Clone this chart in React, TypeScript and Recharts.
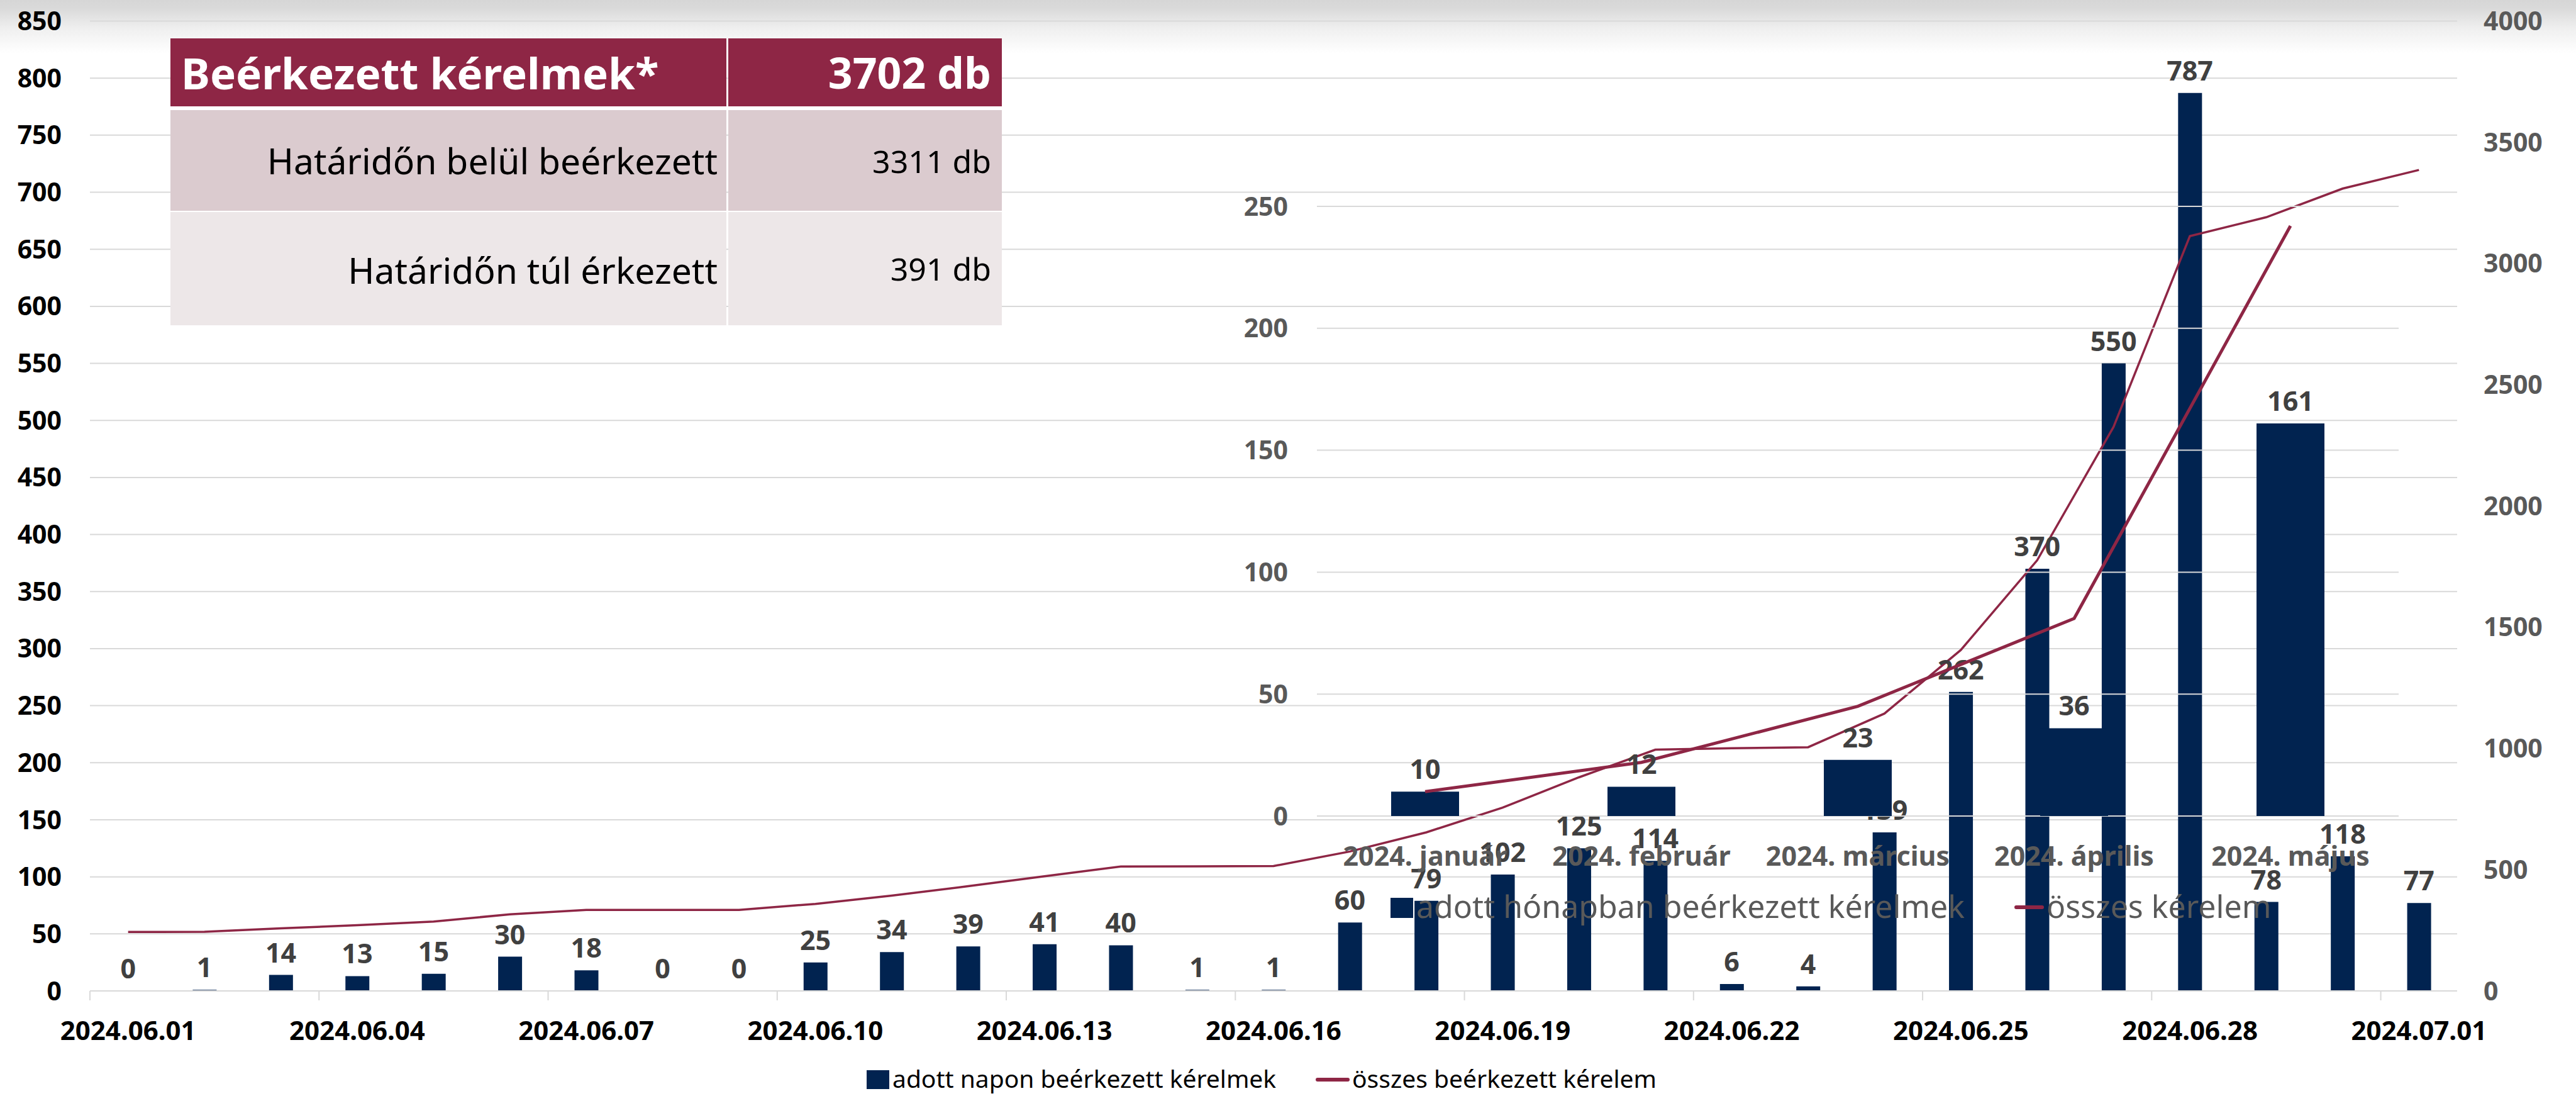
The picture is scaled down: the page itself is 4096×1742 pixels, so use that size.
import React from 'react';
import { ComposedChart, Bar, Line, XAxis, YAxis, CartesianGrid, LabelList } from 'recharts';

const days = [
  '2024.06.01', '2024.06.02', '2024.06.03', '2024.06.04', '2024.06.05', '2024.06.06', '2024.06.07',
  '2024.06.08', '2024.06.09', '2024.06.10', '2024.06.11', '2024.06.12', '2024.06.13', '2024.06.14',
  '2024.06.15', '2024.06.16', '2024.06.17', '2024.06.18', '2024.06.19', '2024.06.20', '2024.06.21',
  '2024.06.22', '2024.06.23', '2024.06.24', '2024.06.25', '2024.06.26', '2024.06.27', '2024.06.28',
  '2024.06.29', '2024.06.30', '2024.07.01',
];
const dailyCounts = [0, 1, 14, 13, 15, 30, 18, 0, 0, 25, 34, 39, 41, 40, 1, 1, 60, 79, 102, 125, 114, 6, 4, 139, 262, 370, 550, 787, 78, 118, 77];
const cumulativeCounts = [243, 244, 258, 271, 286, 316, 334, 334, 334, 359, 393, 432, 473, 513, 514, 515, 575, 654, 756, 881, 995, 1001, 1005, 1144, 1406, 1776, 2326, 3113, 3191, 3309, 3386];
const leftTicks = [0, 50, 100, 150, 200, 250, 300, 350, 400, 450, 500, 550, 600, 650, 700, 750, 800, 850];
const rightTicks = [0, 500, 1000, 1500, 2000, 2500, 3000, 3500, 4000];

const months = ['2024. január', '2024. február', '2024. március', '2024. április', '2024. május'];
const monthlyCounts = [10, 12, 23, 36, 161];
const monthlyTotals = [10, 22, 45, 81, 242];
const subTicks = [0, 50, 100, 150, 200, 250];

const summaryHeader = ['Beérkezett kérelmek*', '3702 db'];
const summaryRows = [
  ['Határidőn belül beérkezett', '3311 db'],
  ['Határidőn túl érkezett', '391 db'],
];

const mainLegend = ['adott napon beérkezett kérelmek', 'összes beérkezett kérelem'];
const subLegend = ['adott hónapban beérkezett kérelmek', 'összes kérelem'];

const FONT = "'Noto Sans', 'Open Sans', sans-serif";
const NAVY = '#012350';
const MAROON = '#8E2645';
const GRID = '#d9d9d9';

const dailyData = days.map((d, i) => ({ day: d, daily: dailyCounts[i], cumulative: cumulativeCounts[i] }));
const monthlyData = months.map((m, i) => ({ month: m, count: monthlyCounts[i], total: monthlyTotals[i] }));

// main chart geometry
const W = 4096;
const H = 1742;
const PLOT_LEFT = 143;
const PLOT_RIGHT = 3907;
const PLOT_TOP = 33.5;
const PLOT_BOTTOM = 1575;
const BW = (PLOT_RIGHT - PLOT_LEFT) / days.length;

function DayTick(props: any) {
  const { x, y, payload } = props;
  return (
    <g>
      <line x1={x - BW / 2} x2={x - BW / 2} y1={y} y2={y + 15} stroke={GRID} strokeWidth={2} />
      <text x={x} y={y + 78} textAnchor="middle" fontSize={42} fontWeight={700} fill="#000" fontFamily={FONT}>
        {payload.value}
      </text>
    </g>
  );
}

function MonthTick(props: any) {
  const { x, y, payload } = props;
  return (
    <text x={x} y={y + 79} textAnchor="middle" fontSize={43} fontWeight={700} fill="#595959" fontFamily={FONT}>
      {payload.value}
    </text>
  );
}

// sub chart geometry
const SUB_LEFT = 1900;
const SUB_TOP = 250;
const SUB_W = 1960;
const SUB_H = 1200;

export default function App() {
  return (
    <div
      style={{
        position: 'absolute',
        left: 0,
        top: 0,
        width: W,
        height: H,
        overflow: 'hidden',
        background: '#ffffff',
        fontFamily: FONT,
      }}
    >
      <div
        style={{
          position: 'absolute',
          left: 0,
          top: 0,
          width: W,
          height: 90,
          background: 'linear-gradient(to bottom, #d6d6d6 0px, #dadada 14px, #efefef 45px, #ffffff 85px)',
        }}
      />
      <div style={{ position: 'absolute', left: 0, top: 0 }}>
        <ComposedChart
          width={W}
          height={H}
          data={dailyData}
          margin={{ top: PLOT_TOP, right: 0, bottom: H - PLOT_BOTTOM - 80, left: 0 }}
          barCategoryGap={0}
        >
          <CartesianGrid yAxisId="left" horizontal vertical={false} stroke={GRID} strokeWidth={2} />
          <XAxis
            dataKey="day"
            height={80}
            interval={2}
            tickSize={0}
            tickMargin={0}
            axisLine={{ stroke: GRID, strokeWidth: 2 }}
            tickLine={false}
            tick={(p: any) => <DayTick {...p} />}
          />
          <YAxis
            yAxisId="left"
            orientation="left"
            width={PLOT_LEFT}
            domain={[0, 850]}
            ticks={leftTicks}
            interval={0}
            axisLine={false}
            tickLine={false}
            tickSize={0}
            tickMargin={45}
            tick={{ fontSize: 41, fontWeight: 700, fill: '#000', fontFamily: FONT }}
          />
          <YAxis
            yAxisId="right"
            orientation="right"
            width={W - PLOT_RIGHT}
            domain={[0, 4000]}
            ticks={rightTicks}
            interval={0}
            axisLine={false}
            tickLine={false}
            tickSize={0}
            tickMargin={42}
            tick={{ fontSize: 41, fontWeight: 700, fill: '#595959', fontFamily: FONT, textAnchor: 'start' }}
          />
          <Bar yAxisId="left" dataKey="daily" fill={NAVY} barSize={38} isAnimationActive={false} />
          <Line
            yAxisId="left"
            type="linear"
            dataKey="daily"
            stroke="none"
            dot={false}
            activeDot={false}
            legendType="none"
            isAnimationActive={false}
          >
            <LabelList
              dataKey="daily"
              position="top"
              offset={20}
              fill="#404040"
              fontSize={43}
              fontWeight={700}
              fontFamily={FONT}
            />
          </Line>
          <Line
            yAxisId="right"
            type="linear"
            dataKey="cumulative"
            stroke={MAROON}
            strokeWidth={3.5}
            dot={false}
            activeDot={false}
            isAnimationActive={false}
          />
        </ComposedChart>
      </div>

      {/* summary table */}
      <div style={{ position: 'absolute', left: 271, top: 61, width: 1322, height: 456 }}>
        <div style={{ position: 'absolute', left: 0, top: 0, width: 884, height: 108, background: MAROON }} />
        <div style={{ position: 'absolute', left: 887, top: 0, width: 435, height: 108, background: MAROON }} />
        <div style={{ position: 'absolute', left: 0, top: 114, width: 884, height: 160, background: '#DBCBCF' }} />
        <div style={{ position: 'absolute', left: 887, top: 114, width: 435, height: 160, background: '#DBCBCF' }} />
        <div style={{ position: 'absolute', left: 0, top: 276, width: 884, height: 180, background: '#EDE7E8' }} />
        <div style={{ position: 'absolute', left: 887, top: 276, width: 435, height: 180, background: '#EDE7E8' }} />
        <div style={{ position: 'absolute', left: 17, top: 9, fontSize: 69, fontWeight: 700, color: '#fff', lineHeight: '90px', whiteSpace: 'nowrap' }}>
          {summaryHeader[0]}
        </div>
        <div style={{ position: 'absolute', right: 17, top: 9, fontSize: 68, fontWeight: 700, color: '#fff', lineHeight: '90px', whiteSpace: 'nowrap' }}>
          {summaryHeader[1]}
        </div>
        <div style={{ position: 'absolute', right: 1322 - 870, top: 154, fontSize: 57, color: '#000', lineHeight: '80px', whiteSpace: 'nowrap' }}>
          {summaryRows[0][0]}
        </div>
        <div style={{ position: 'absolute', right: 17, top: 160, fontSize: 50, color: '#000', lineHeight: '70px', whiteSpace: 'nowrap' }}>
          {summaryRows[0][1]}
        </div>
        <div style={{ position: 'absolute', right: 1322 - 870, top: 328, fontSize: 57, color: '#000', lineHeight: '80px', whiteSpace: 'nowrap' }}>
          {summaryRows[1][0]}
        </div>
        <div style={{ position: 'absolute', right: 17, top: 331, fontSize: 50, color: '#000', lineHeight: '70px', whiteSpace: 'nowrap' }}>
          {summaryRows[1][1]}
        </div>
      </div>

      {/* overlaid monthly chart */}
      <div style={{ position: 'absolute', left: SUB_LEFT, top: SUB_TOP }}>
        <ComposedChart
          width={SUB_W}
          height={SUB_H}
          data={monthlyData}
          margin={{ top: 328 - SUB_TOP, right: SUB_LEFT + SUB_W - 3814, bottom: SUB_TOP + SUB_H - 1297 - 80, left: 0 }}
        >
          <CartesianGrid horizontal vertical={false} stroke={GRID} strokeWidth={2} />
          <XAxis
            dataKey="month"
            height={80}
            interval={0}
            tickSize={0}
            tickMargin={0}
            axisLine={false}
            tickLine={false}
            tick={(p: any) => <MonthTick {...p} />}
          />
          <YAxis
            width={2094 - SUB_LEFT}
            domain={[0, 250]}
            ticks={subTicks}
            interval={0}
            axisLine={false}
            tickLine={false}
            tickSize={0}
            tickMargin={46}
            tick={{ fontSize: 41, fontWeight: 700, fill: '#595959', fontFamily: FONT }}
          />
          <Bar dataKey="count" fill={NAVY} barSize={108} isAnimationActive={false}>
            <LabelList
              dataKey="count"
              position="top"
              offset={20}
              fill="#404040"
              fontSize={43}
              fontWeight={700}
              fontFamily={FONT}
            />
          </Bar>
          <Line
            type="linear"
            dataKey="total"
            stroke={MAROON}
            strokeWidth={5}
            dot={false}
            activeDot={false}
            isAnimationActive={false}
          />
        </ComposedChart>
      </div>

      {/* sub legend */}
      <div style={{ position: 'absolute', left: 2211, top: 1427, width: 36, height: 32, background: NAVY }} />
      <div style={{ position: 'absolute', left: 2252, top: 1405, fontSize: 50, color: '#595959', lineHeight: '70px', whiteSpace: 'nowrap' }}>
        {subLegend[0]}
      </div>
      <div style={{ position: 'absolute', left: 3203, top: 1439, width: 47, height: 6, background: MAROON, borderRadius: 3 }} />
      <div style={{ position: 'absolute', left: 3254, top: 1405, fontSize: 50, color: '#595959', lineHeight: '70px', whiteSpace: 'nowrap' }}>
        {subLegend[1]}
      </div>

      {/* main legend */}
      <div style={{ position: 'absolute', left: 1378, top: 1701, width: 36, height: 30, background: NAVY }} />
      <div style={{ position: 'absolute', left: 1419, top: 1688, fontSize: 39, color: '#000', lineHeight: '52px', whiteSpace: 'nowrap' }}>
        {mainLegend[0]}
      </div>
      <div style={{ position: 'absolute', left: 2092, top: 1713, width: 54, height: 6, background: MAROON, borderRadius: 3 }} />
      <div style={{ position: 'absolute', left: 2150, top: 1688, fontSize: 39, color: '#000', lineHeight: '52px', whiteSpace: 'nowrap' }}>
        {mainLegend[1]}
      </div>
    </div>
  );
}
